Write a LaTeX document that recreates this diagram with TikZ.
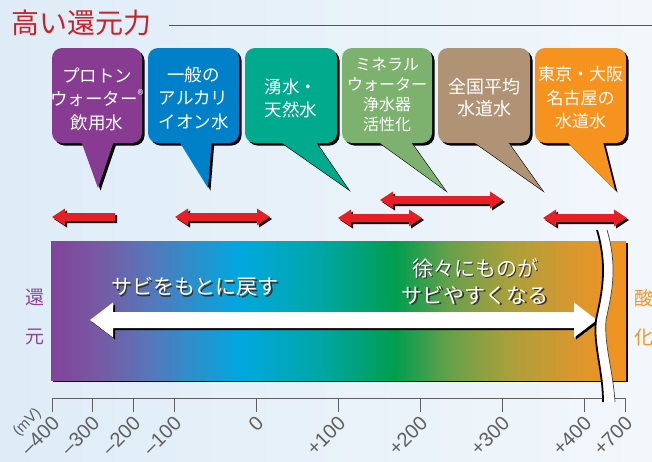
\documentclass[tikz,border=0pt]{standalone}
\usepackage{fontspec}
\usepackage{graphicx}
\setmainfont{Liberation Sans}
\newfontfamily\jp{Noto Sans CJK JP}
\definecolor{titlered}{RGB}{200,35,45}
\definecolor{cpurple}{RGB}{135,60,145}
\definecolor{cblue}{RGB}{0,128,200}
\definecolor{cteal}{RGB}{0,170,140}
\definecolor{cgreen}{RGB}{124,178,110}
\definecolor{ctan}{RGB}{176,146,116}
\definecolor{corange}{RGB}{246,146,30}
\definecolor{ared}{RGB}{232,30,38}
\definecolor{axisgray}{RGB}{95,95,95}
\definecolor{lblpurple}{RGB}{140,70,150}
\definecolor{lblorange}{RGB}{240,150,40}
\definecolor{bgA}{RGB}{222,236,247}
\definecolor{bgB}{RGB}{242,247,251}
\definecolor{g0}{RGB}{130,68,152}
\definecolor{g1}{RGB}{118,90,165}
\definecolor{g2}{RGB}{85,120,185}
\definecolor{g3}{RGB}{0,168,224}
\definecolor{g4}{RGB}{0,166,165}
\definecolor{g5}{RGB}{0,158,80}
\definecolor{g6}{RGB}{105,160,75}
\definecolor{g7}{RGB}{170,160,60}
\definecolor{g8}{RGB}{215,152,48}
\definecolor{g9}{RGB}{232,148,38}
\definecolor{g10}{RGB}{242,148,30}
\pgfdeclarehorizontalshading{barshade}{100bp}{color(0bp)=(g0); color(25bp)=(g0); color(29.3bp)=(g1); color(33.6bp)=(g2); color(41.4bp)=(g3); color(48.4bp)=(g4); color(54.9bp)=(g5); color(59.7bp)=(g6); color(64.9bp)=(g7); color(70.1bp)=(g8); color(72.7bp)=(g9); color(75bp)=(g10); color(100bp)=(g10)}
\tikzset{
  bubbletext/.style={text=white,align=center,inner sep=0pt,font=\jp\fontsize{17.5}{23.5}\selectfont},
  bartext/.style={align=center,inner sep=0pt,font=\jp\fontsize{21}{27}\selectfont},
  sidelabel/.style={inner sep=0pt,font=\jp\fontsize{19}{23}\selectfont},
  ticklabel/.style={text=axisgray,anchor=north east,inner sep=0pt,font=\fontsize{20}{22}\selectfont},
  redarrow/.style={fill=ared},
  shadowfill/.style={fill=black}
}
\newcommand\bubble[7]{%
  \begin{scope}[shift={(2.5,2.5)}]
    \fill[shadowfill,rounded corners=10] (#1,48) rectangle (#2,143);
    \fill[shadowfill] (#3,138) -- (#5,#6) -- (#4,138) -- cycle;
  \end{scope}
  \fill[#7,rounded corners=10] (#1,48) rectangle (#2,143);
  \fill[#7] (#3,138) -- (#5,#6) -- (#4,138) -- cycle;
}
\newcommand\dblpath[3]{(#1,#3) -- ({#1+13},{#3-8.5}) -- ({#1+13},{#3-4}) -- ({#2-13},{#3-4}) -- ({#2-13},{#3-8.5}) -- (#2,#3) -- ({#2-13},{#3+8.5}) -- ({#2-13},{#3+4}) -- ({#1+13},{#3+4}) -- ({#1+13},{#3+8.5}) -- cycle}
\newcommand\dblarrow[3]{%
  \fill[shadowfill,shift={(2,2)}] \dblpath{#1}{#2}{#3};
  \fill[redarrow] \dblpath{#1}{#2}{#3};
}
\begin{document}
\begin{tikzpicture}[x=1pt,y=-1pt]
\useasboundingbox (0,0) rectangle (652,461);
\shade[left color=bgA,right color=bgB] (0,0) rectangle (652,461);

% title
\node[anchor=west,inner sep=0pt,text=titlered,font=\jp\fontsize{28}{30}\selectfont] (title) at (11,23) {高い還元力};
\coordinate (titleend) at (652,25);
\draw[titlered,line width=0.8pt] (title.east) ++(18,2) coordinate (titlestart) -- (titleend);

% callouts
\bubble{52}{142}{80}{115}{98}{188}{cpurple}
\bubble{148}{239}{177}{212}{208}{188}{cblue}
\bubble{245}{337}{275}{313}{348}{189}{cteal}
\bubble{342}{432}{373}{408}{445}{190}{cgreen}
\bubble{438}{530}{468}{505}{542}{190}{ctan}
\bubble{535}{626}{563}{602}{615}{190}{corange}
\node[bubbletext] (b1) at (97,99) {プロトン\\ウォーター\textsuperscript{®}\\飲用水};
\node[bubbletext] (b2) at (193.5,98) {一般の\\アルカリ\\イオン水};
\node[bubbletext] (b3) at (291,98.5) {湧水・\\天然水};
\node[bubbletext,font=\jp\fontsize{16}{20}\selectfont] (b4) at (387,95) {ミネラル\\ウォーター\\浄水器\\活性化};
\node[bubbletext,font=\jp\fontsize{18}{22}\selectfont] (b5) at (484,97.5) {全国平均\\水道水};
\node[bubbletext,font=\jp\fontsize{17}{23.5}\selectfont] (b6) at (580.5,98) {東京・大阪\\名古屋の\\水道水};

% red arrows
\fill[shadowfill,shift={(2,2)}] (52,217) -- (65,208.5) -- (65,213) -- (115,213) -- (115,221) -- (65,221) -- (65,225.5) -- cycle;
\fill[redarrow] (52,217) -- (65,208.5) -- (65,213) -- (115,213) -- (115,221) -- (65,221) -- (65,225.5) -- cycle;
\dblarrow{175}{270}{217}
\dblarrow{338}{422}{218}
\dblarrow{380}{503}{200}
\dblarrow{543}{627}{218}

% bar
\fill[shadowfill] (53,243) rectangle (628,382);
\shade[shading=barshade] (51,241) rectangle (626,380);

% bar texts
\node[bartext,text=black!80] at (196.5,288.5) {サビをもとに戻す};
\node[bartext,text=white] (t1) at (195,287) {サビをもとに戻す};
\node[bartext,text=black!80] at (476.5,283) {徐々にものが\\サビやすくなる};
\node[bartext,text=white] (t2) at (475,281.5) {徐々にものが\\サビやすくなる};

% white arrow
\fill[shadowfill,shift={(2,2)}] (90,320) -- (113,302.5) -- (113,312) -- (574,312) -- (574,302.5) -- (597,320) -- (574,337.5) -- (574,328) -- (113,328) -- (113,337.5) -- cycle;
\fill[white] (90,320) -- (113,302.5) -- (113,312) -- (574,312) -- (574,302.5) -- (597,320) -- (574,337.5) -- (574,328) -- (113,328) -- (113,337.5) -- cycle;

% side labels
\node[sidelabel,text=lblpurple] (k1) at (35,297) {還};
\node[sidelabel,text=lblpurple] (k2) at (35,337) {元};
\node[sidelabel,text=lblorange] (s1) at (644,298) {酸};
\node[sidelabel,text=lblorange] (s2) at (644,337) {化};

% axis
\coordinate (ax0) at (52,398);
\coordinate (ax1) at (626,398);
\draw[axisgray,line width=0.8pt] (ax0) -- (ax1);
\foreach \x/\l in {52/{–400},92/{–300},133/{–200},174/{–100},256/{0},338/{+100},420/{+200},502/{+300},584/{+400},625/{+700}}{
  \draw[axisgray,line width=0.8pt] (\x,398) -- (\x,412);
  \node[ticklabel] at ({\x+9},415) {\rotatebox{45}{\l}};
}
\node[text=axisgray,anchor=north east,inner sep=0pt,font=\fontsize{15}{16}\selectfont] (unit) at (44,406) {\rotatebox{45}{(mV)}};

% break
\fill[white] (597,230) .. controls (609,270) and (600,300) .. (596,320) .. controls (593,345) and (603,370) .. (603,402) -- (615,402) .. controls (613,370) and (604,345) .. (606,320) .. controls (610,300) and (619,270) .. (607,230) -- cycle;
\draw[black,line width=1.8pt] (597,230) .. controls (609,270) and (600,300) .. (596,320) .. controls (593,345) and (603,370) .. (603,402);
\draw[black!75,line width=0.7pt] (607,230) .. controls (619,270) and (610,300) .. (606,320) .. controls (604,345) and (613,370) .. (615,402);
\end{tikzpicture}
\end{document}
